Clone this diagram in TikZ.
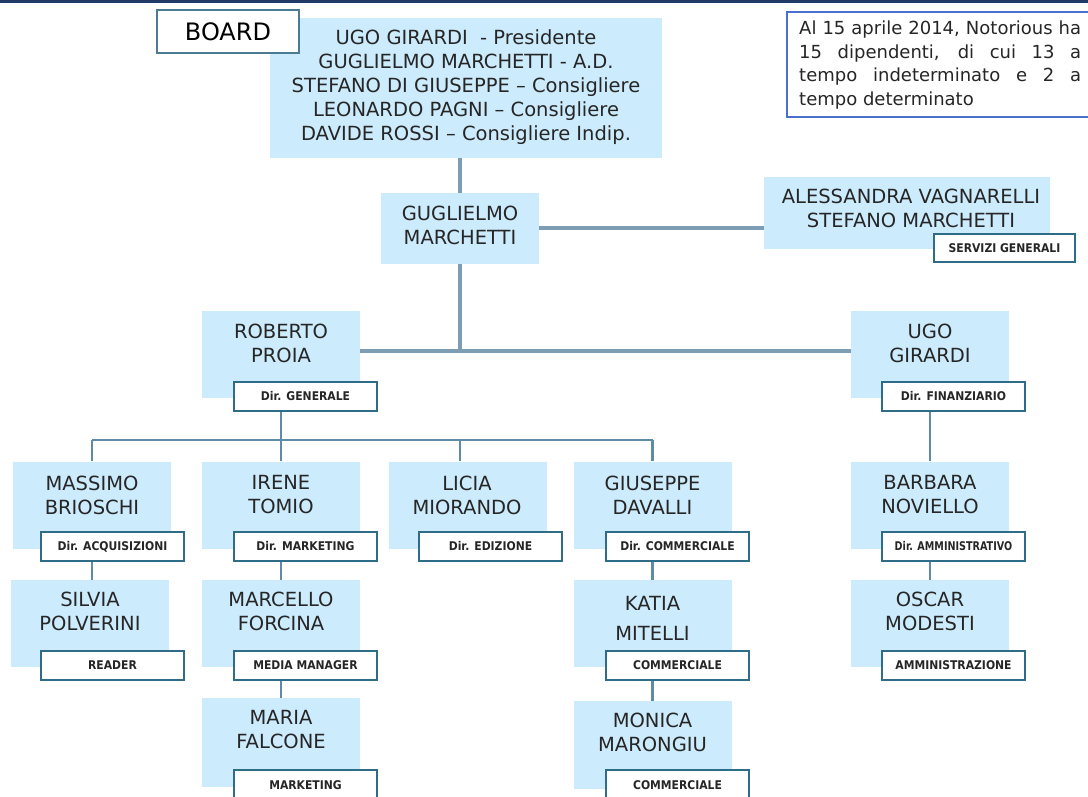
\documentclass[tikz,border=0pt]{standalone}
\usepackage{fontspec}
\setmainfont{DejaVu Sans}
\usetikzlibrary{backgrounds}
\definecolor{pfill}{HTML}{CCEBFC}
\definecolor{lbord}{HTML}{2F6C88}
\definecolor{conn}{HTML}{5E8BA7}
\definecolor{mconn}{HTML}{7C9DB4}
\definecolor{navy}{HTML}{1F3A64}
\definecolor{txt}{HTML}{262626}
\definecolor{notec}{HTML}{4A6FCF}
\definecolor{boardc}{HTML}{4D7A93}
\newcommand{\lt}[1]{\scalebox{0.9}[1]{#1}}
\tikzset{
  pbox/.style={fill=pfill, draw=none, minimum width=158pt, minimum height=87pt, inner sep=0pt},
  ptext/.style={align=center, font=\fontsize{19.5}{24}\selectfont, text=txt, inner sep=0pt},
  lbl/.style={draw=lbord, line width=1.5pt, fill=white, minimum width=143pt, minimum height=29pt, inner sep=0pt, font=\bfseries\fontsize{12}{13}\selectfont, text=txt},
  mainline/.style={draw=mconn, line width=4pt},
  subline/.style={draw=conn, line width=2.8pt}
}
\begin{document}
\begin{tikzpicture}[x=1pt,y=-1pt]
\useasboundingbox (0,0) rectangle (1088,797);
\clip (0,0) rectangle (1088,797);
\draw[navy, line width=3pt] (0,1.5) -- (1088,1.5);

% board
\node[pbox, minimum width=392pt, minimum height=140pt] (brd) at (466,88) {};
\node[ptext] (brdt) at (466,87) {UGO GIRARDI\ \ - Presidente\\GUGLIELMO MARCHETTI - A.D.\\STEFANO DI GIUSEPPE -- Consigliere\\LEONARDO PAGNI -- Consigliere\\DAVIDE ROSSI -- Consigliere Indip.};
\node[draw=boardc, line width=1.5pt, fill=white, minimum width=142pt, minimum height=43pt, inner sep=0pt, font=\fontsize{24}{26}\selectfont, text=black] (bl) at (228,31.5) {BOARD};

% note
\node[draw=notec, line width=2pt, fill=white, minimum width=305pt, minimum height=105pt, inner sep=0pt] (note) at (939.5,64.5) {};
\node[anchor=north west, align=left, inner sep=0pt, font=\fontsize{18}{23.5}\selectfont, text=txt] (notet) at (799,21) {\makebox[282pt][s]{Al 15 aprile 2014, Notorious ha}\\\makebox[282pt][s]{15 dipendenti, di cui 13 a}\\\makebox[282pt][s]{tempo indeterminato e 2 a}\\tempo determinato};

% level 1
\node[pbox, minimum height=71pt] (gug) at (460,228.5) {};
\node[ptext] (gugt) at (460,225) {GUGLIELMO\\MARCHETTI};
\node[pbox, minimum width=286pt, minimum height=72pt] (ale) at (907,213) {};
\node[ptext] (alet) at (911,208) {ALESSANDRA VAGNARELLI\\STEFANO MARCHETTI};
\node[lbl, minimum width=141pt, minimum height=28pt] (sgl) at (1004.5,248) {\lt{SERVIZI GENERALI}};

% level 2
\node[pbox] (rob) at (281,354.5) {};
\node[ptext] (robt) at (281,343) {ROBERTO\\PROIA};
\node[lbl] (dgl) at (305.5,396.5) {\lt{Dir. GENERALE}};
\node[pbox] (ugo) at (930,354.5) {};
\node[ptext] (ugot) at (930,343) {UGO\\GIRARDI};
\node[lbl] (dfl) at (953.5,396.5) {\lt{Dir. FINANZIARIO}};

% level 3
\node[pbox] (mas) at (92,505) {};
\node[ptext] (mast) at (92,495) {MASSIMO\\BRIOSCHI};
\node[lbl] (dal) at (112.5,546.5) {\lt{Dir. ACQUISIZIONI}};
\node[pbox] (ire) at (281,505) {};
\node[ptext] (iret) at (281,495) {IRENE\\TOMIO};
\node[lbl] (dml) at (305.5,546.5) {\lt{Dir. MARKETING}};
\node[pbox] (lic) at (468,505) {};
\node[ptext] (lict) at (467,495) {LICIA\\MIORANDO};
\node[lbl] (del) at (490.5,546.5) {\lt{Dir. EDIZIONE}};
\node[pbox] (giu) at (652.5,505) {};
\node[ptext] (giut) at (652.5,495) {GIUSEPPE\\DAVALLI};
\node[lbl] (dcl) at (677.5,546.5) {\lt{Dir. COMMERCIALE}};
\node[pbox] (bar) at (930,505) {};
\node[ptext] (bart) at (930,495) {BARBARA\\NOVIELLO};
\node[lbl] (dal2) at (953.5,546.5) {\scalebox{0.8}[1]{Dir. AMMINISTRATIVO}};

% level 4
\node[pbox] (sil) at (90,623.5) {};
\node[ptext] (silt) at (90,611.5) {SILVIA\\POLVERINI};
\node[lbl] (rl) at (112.5,665.5) {\lt{READER}};
\node[pbox] (mar) at (281,623.5) {};
\node[ptext] (mart) at (281,611.5) {MARCELLO\\FORCINA};
\node[lbl] (mml) at (305.5,665.5) {\lt{MEDIA MANAGER}};
\node[pbox] (kat) at (652.5,623.5) {};
\node[ptext, font=\fontsize{19.5}{30}\selectfont] (katt) at (652.5,618) {KATIA\\MITELLI};
\node[lbl] (cl) at (677.5,665.5) {\lt{COMMERCIALE}};
\node[pbox] (osc) at (930,623.5) {};
\node[ptext] (osct) at (930,611.5) {OSCAR\\MODESTI};
\node[lbl] (aml) at (953.5,665.5) {\lt{AMMINISTRAZIONE}};

% level 5
\node[pbox, minimum height=89pt] (mfa) at (281,742.5) {};
\node[ptext] (mfat) at (281,730) {MARIA\\FALCONE};
\node[lbl, minimum height=30pt] (mkl) at (305.5,785) {\lt{MARKETING}};
\node[pbox, minimum height=88pt] (mon) at (652.5,745) {};
\node[ptext] (mont) at (652.5,732.5) {MONICA\\MARONGIU};
\node[lbl, minimum height=30pt] (cl2) at (677.5,785) {\lt{COMMERCIALE}};

% connectors
\coordinate (jn) at (460,351);
\coordinate (busL) at (92,440);
\coordinate (busR) at (652.5,440);
\coordinate (licbr) at (460,440);
\begin{scope}[on background layer]
\draw[mainline] (gug.north |- brd.south) -- (gug.north);
\draw[mainline] (gug.east) -- (ale.west |- gug.east);
\draw[mainline] (gug.south) -- (jn);
\draw[mainline] (rob.east |- jn) -- (ugo.west |- jn);
\draw[subline] (rob.center |- dgl.south) -- (rob.center |- busL);
\draw[subline] (busL) -- (busR);
\draw[subline] (busL) -- (mas.north);
\draw[subline] (ire.north |- busL) -- (ire.north);
\draw[subline] (licbr) -- (licbr |- lic.north);
\draw[subline] (busR) -- (giu.north);
\draw[subline] (ugo.center |- dfl.south) -- (bar.north);
\draw[subline] (dal.south -| mas.center) -- (sil.north -| mas.center);
\draw[subline] (dml.south -| ire.center) -- (mar.north);
\draw[subline] (mml.south -| mar.center) -- (mfa.north);
\draw[subline] (dcl.south -| giu.center) -- (kat.north);
\draw[subline] (cl.south -| kat.center) -- (mon.north);
\draw[subline] (dal2.south -| bar.center) -- (osc.north);
\end{scope}
\end{tikzpicture}
\end{document}
